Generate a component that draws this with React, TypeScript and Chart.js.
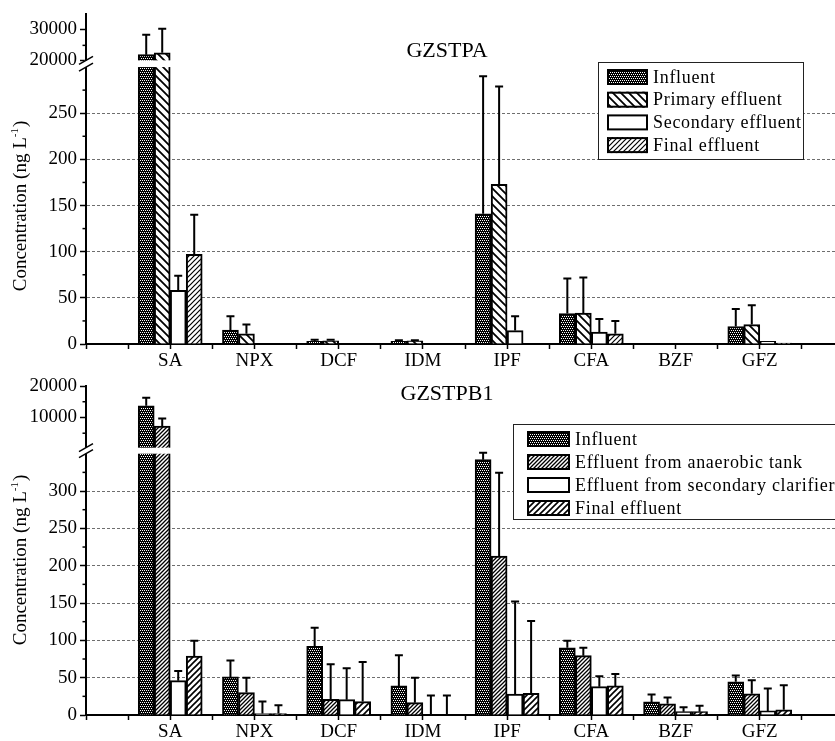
import React, { useEffect, useRef } from 'react';
import { Chart, registerables, LinearScale } from 'chart.js';

Chart.register(...registerables);

// ---------------- data ----------------
const categories = ['SA', 'NPX', 'DCF', 'IDM', 'IPF', 'CFA', 'BZF', 'GFZ'];
const xTickValues = [0, 0.5, 1, 1.5, 2, 2.5, 3, 3.5, 4, 4.5, 5, 5.5, 6, 6.5, 7, 7.5, 8, 8.5, 9];

// Panel A: GZSTPA
const titleA = 'GZSTPA';
const namesA = ['Influent', 'Primary effluent', 'Secondary effluent', 'Final effluent'];
const aInfluent = [22100, 15, 3, 3, 141, 33, 0, 19];
const aInfluentErr = [6200, 15, 1.5, 1, 149, 38, 0, 19];
const aPrimary = [22700, 11, 3.5, 3.5, 173, 33.5, 0, 21];
const aPrimaryErr = [7500, 10, 1, 0.5, 106, 38.5, 0, 21];
const aSecondary = [58, 0, 0, 0, 14.5, 13, 0, 3];
const aSecondaryErr = [16, 0, 0, 0, 15.5, 14, 0, 0];
const aFinal = [97, 0, 0, 0, 0, 11, 0, 1];
const aFinalErr = [43, 0, 0, 0, 0, 14, 0, 0];
const aMajorTicks = [0, 50, 100, 150, 200, 250, 20000, 30000];
const aMinorTicks = [25, 75, 125, 175, 225, 275, 25000];
const aGridTicks = [50, 100, 150, 200, 250];

// Panel B: GZSTPB1
const titleB = 'GZSTPB1';
const namesB = ['Influent', 'Effluent from anaerobic tank', 'Effluent from secondary clarifier', 'Final effluent'];
const bInfluent = [13700, 51, 92, 39, 342, 90, 17.5, 44.5];
const bInfluentErr = [2600, 22, 25, 41, 15, 9.5, 10, 8.5];
const bAnaerobic = [7300, 30, 21, 16.5, 213, 79.5, 15, 28.5];
const bAnaerobicErr = [2400, 20, 47, 33.5, 111.5, 10.5, 8.5, 18];
const bSecondary = [46, 2, 20.5, 0, 28, 38, 4.5, 5.5];
const bSecondaryErr = [13, 16, 42, 26, 124, 14, 6, 30];
const bFinal = [79, 2, 18, 0, 29, 39, 4.5, 7];
const bFinalErr = [20.5, 11, 53, 26, 97, 16, 8, 33];
const bMajorTicks = [0, 50, 100, 150, 200, 250, 300, 10000, 20000];
const bMinorTicks = [25, 75, 125, 175, 225, 275, 325, 5000, 15000];
const bGridTicks = [50, 100, 150, 200, 250, 300];

const yTitle = 'Concentration (ng L';
const yTitleSup = '-1';
const yTitleEnd = ')';

// ---------------- broken axis scale ----------------
type Seg = { min: number; max: number; f0: number; f1: number };
const SEGS = new WeakMap<HTMLCanvasElement, Seg[]>();

function valueToFrac(segs: Seg[], v: number) {
  const [lo, hi] = segs;
  if (v <= lo.max) return lo.f0 + ((v - lo.min) / (lo.max - lo.min)) * (lo.f1 - lo.f0);
  if (v >= hi.min) return hi.f0 + ((v - hi.min) / (hi.max - hi.min)) * (hi.f1 - hi.f0);
  return lo.f1 + ((v - lo.max) / (hi.min - lo.max)) * (hi.f0 - lo.f1);
}
function fracToValue(segs: Seg[], f: number) {
  const [lo, hi] = segs;
  if (f <= lo.f1) return lo.min + ((f - lo.f0) / (lo.f1 - lo.f0)) * (lo.max - lo.min);
  if (f >= hi.f0) return hi.min + ((f - hi.f0) / (hi.f1 - hi.f0)) * (hi.max - hi.min);
  return lo.max + ((f - lo.f1) / (hi.f0 - lo.f1)) * (hi.min - lo.max);
}

class BrokenScale extends (LinearScale as any) {
  static id = 'broken';
  getPixelForValue(value: number) {
    const segs = SEGS.get((this as any).chart.canvas);
    if (!segs || value === null || value === undefined || isNaN(value)) return super.getPixelForValue(value);
    const self = this as any;
    const f = valueToFrac(segs, value);
    return self.bottom - f * (self.bottom - self.top);
  }
  getValueForPixel(pixel: number) {
    const segs = SEGS.get((this as any).chart.canvas);
    const self = this as any;
    if (!segs) return super.getValueForPixel(pixel);
    const f = (self.bottom - pixel) / (self.bottom - self.top);
    return fracToValue(segs, f);
  }
}
Chart.register(BrokenScale as any);

const FONT = "'Liberation Serif', 'Times New Roman', serif";
Chart.defaults.font.family = FONT;

// ---------------- patterns ----------------
function makeTile(size: number, draw: (c: CanvasRenderingContext2D, s: number) => void) {
  const cv = document.createElement('canvas');
  cv.width = size;
  cv.height = size;
  const c = cv.getContext('2d')!;
  draw(c, size);
  return c.createPattern(cv, 'repeat') as CanvasPattern;
}
function dotPattern() {
  return makeTile(4, (c) => {
    c.fillStyle = '#000';
    c.fillRect(0, 0, 4, 4);
    c.fillStyle = '#fff';
    c.fillRect(0, 0, 1, 1);
    c.fillRect(2, 0, 1, 1);
    c.fillRect(1, 2, 1, 1);
    c.fillRect(3, 2, 1, 1);
  });
}
function hatchPattern(forward: boolean, s: number, lw: number) {
  return makeTile(s, (c) => {
    c.fillStyle = '#fff';
    c.fillRect(0, 0, s, s);
    c.strokeStyle = '#000';
    c.lineWidth = lw;
    c.beginPath();
    if (forward) {
      c.moveTo(-1, s + 1); c.lineTo(s + 1, -1);
      c.moveTo(-s / 2 - 1, s / 2 + 1); c.lineTo(s / 2 + 1, -s / 2 - 1);
      c.moveTo(s / 2 - 1, s * 1.5 + 1); c.lineTo(s * 1.5 + 1, s / 2 - 1);
    } else {
      c.moveTo(-1, -1); c.lineTo(s + 1, s + 1);
      c.moveTo(-s / 2 - 1, s / 2 - 1); c.lineTo(s / 2 + 1, s * 1.5 + 1);
      c.moveTo(s / 2 - 1, -s / 2 - 1); c.lineTo(s * 1.5 + 1, s / 2 + 1);
    }
    c.stroke();
  });
}

// ---------------- panel config ----------------
type LegendCfg = { x: number; y: number; w: number; h: number; row0: number; rowGap: number; swX: number; swW: number; swH: number; textX: number };
type PanelCfg = {
  title: string;
  titleX: number;
  titleY: number;
  names: string[];
  values: number[][];
  errors: number[][];
  fills: () => (string | CanvasPattern)[];
  major: number[];
  minor: number[];
  grid: number[];
  segs: Seg[];
  yMax: number;
  padTop: number;
  xAxisH: number;
  height: number;
  top: number;
  yTitleCY: number;
  legend: LegendCfg;
};

const panelA: PanelCfg = {
  title: titleA,
  titleX: 447,
  titleY: 51,
  names: namesA,
  values: [aInfluent, aPrimary, aSecondary, aFinal],
  errors: [aInfluentErr, aPrimaryErr, aSecondaryErr, aFinalErr],
  fills: () => [dotPattern(), hatchPattern(false, 8, 1.8), '#ffffff', hatchPattern(true, 5, 1.2)],
  major: aMajorTicks,
  minor: aMinorTicks,
  grid: aGridTicks,
  segs: [
    { min: 0, max: 300, f0: 0, f1: 0.8403 },
    { min: 20310, max: 34690, f0: 0.8606, f1: 1 },
  ],
  yMax: 34690,
  padTop: 14,
  xAxisH: 28,
  height: 372,
  top: 0,
  yTitleCY: 206,
  legend: { x: 598, y: 62, w: 205, h: 97, row0: 77, rowGap: 22.7, swX: 607, swW: 41, swH: 16, textX: 653 },
};

const panelB: PanelCfg = {
  title: titleB,
  titleX: 447,
  titleY: 24,
  names: namesB,
  values: [bInfluent, bAnaerobic, bSecondary, bFinal],
  errors: [bInfluentErr, bAnaerobicErr, bSecondaryErr, bFinalErr],
  fills: () => [dotPattern(), hatchPattern(true, 4, 1.3), '#ffffff', hatchPattern(true, 6, 1.6)],
  major: bMajorTicks,
  minor: bMinorTicks,
  grid: bGridTicks,
  segs: [
    { min: 0, max: 350, f0: 0, f1: 0.7942 },
    { min: 400, max: 20000, f0: 0.8125, f1: 1 },
  ],
  yMax: 20000,
  padTop: 16,
  xAxisH: 26,
  height: 371,
  top: 370,
  yTitleCY: 190,
  legend: { x: 513, y: 54, w: 340, h: 95, row0: 69, rowGap: 23, swX: 527, swW: 43, swH: 16, textX: 575 },
};

function decorPlugin(p: PanelCfg, fills: (string | CanvasPattern)[]) {
  return {
    id: 'decor',
    afterDatasetsDraw(chart: any) {
      const ctx: CanvasRenderingContext2D = chart.ctx;
      const ys = chart.scales.y;
      const area = chart.chartArea;
      const gTop = ys.getPixelForValue(p.segs[1].min);
      const gBot = ys.getPixelForValue(p.segs[0].max);
      ctx.save();
      // break band
      ctx.fillStyle = '#fff';
      ctx.fillRect(area.left - 1.5, gTop, chart.width, gBot - gTop);
      ctx.strokeStyle = '#000';
      ctx.lineWidth = 1.5;
      for (const yy of [gTop, gBot]) {
        ctx.beginPath();
        ctx.moveTo(area.left - 7, yy + 4);
        ctx.lineTo(area.left + 7, yy - 4);
        ctx.stroke();
      }
      // minor ticks
      for (const v of p.minor) {
        const py = ys.getPixelForValue(v);
        ctx.beginPath();
        ctx.moveTo(area.left - 3.5, py);
        ctx.lineTo(area.left, py);
        ctx.stroke();
      }
      // error bars
      ctx.lineWidth = 2;
      p.errors.forEach((errs, di) => {
        const meta = chart.getDatasetMeta(di);
        meta.data.forEach((el: any, i: number) => {
          const e = errs[i];
          if (!e) return;
          const v = p.values[di][i];
          const x = el.x;
          const y0 = el.y;
          const y1 = ys.getPixelForValue(v + e);
          ctx.beginPath();
          ctx.moveTo(x, y0);
          ctx.lineTo(x, y1);
          ctx.moveTo(x - 4, y1);
          ctx.lineTo(x + 4, y1);
          ctx.stroke();
        });
      });
      ctx.restore();
    },
    afterDraw(chart: any) {
      const ctx: CanvasRenderingContext2D = chart.ctx;
      const L = p.legend;
      ctx.save();
      // legend
      ctx.fillStyle = '#fff';
      ctx.fillRect(L.x, L.y, L.w, L.h);
      ctx.strokeStyle = '#222';
      ctx.lineWidth = 1;
      ctx.strokeRect(L.x + 0.5, L.y + 0.5, L.w, L.h);
      ctx.font = `18px ${FONT}`;
      (ctx as any).letterSpacing = '0.7px';
      ctx.textBaseline = 'middle';
      ctx.textAlign = 'left';
      p.names.forEach((name, i) => {
        const cy = L.row0 + i * L.rowGap;
        ctx.fillStyle = fills[i] as any;
        ctx.fillRect(L.swX, cy - L.swH / 2, L.swW, L.swH);
        ctx.strokeStyle = '#000';
        ctx.lineWidth = 2;
        ctx.strokeRect(L.swX + 1, cy - L.swH / 2 + 1, L.swW - 2, L.swH - 2);
        ctx.fillStyle = '#000';
        ctx.fillText(name, L.textX, cy + 1);
      });
      (ctx as any).letterSpacing = '0px';
      // panel title
      ctx.font = `22px ${FONT}`;
      ctx.textAlign = 'center';
      ctx.fillText(p.title, p.titleX, p.titleY);
      // y-axis title
      ctx.translate(21, p.yTitleCY);
      ctx.rotate(-Math.PI / 2);
      ctx.font = `19px ${FONT}`;
      const w1 = ctx.measureText(yTitle).width;
      ctx.font = `11px ${FONT}`;
      const w2 = ctx.measureText(yTitleSup).width;
      ctx.font = `19px ${FONT}`;
      const w3 = ctx.measureText(yTitleEnd).width;
      const total = w1 + w2 + w3 + 1;
      let x = -total / 2;
      ctx.textAlign = 'left';
      ctx.fillText(yTitle, x, 0);
      x += w1;
      ctx.font = `11px ${FONT}`;
      ctx.fillText(yTitleSup, x, -6);
      x += w2 + 1;
      ctx.font = `19px ${FONT}`;
      ctx.fillText(yTitleEnd, x, 0);
      ctx.restore();
    },
  };
}

function Panel({ p }: { p: PanelCfg }) {
  const ref = useRef<HTMLCanvasElement>(null);
  useEffect(() => {
    const canvas = ref.current!;
    SEGS.set(canvas, p.segs);
    const fills = p.fills();
    const chart = new Chart(canvas, {
      type: 'bar',
      data: {
        datasets: p.values.map((vals, i) => ({
          label: p.names[i],
          data: vals.map((v, j) => ({ x: j + 1, y: v })),
          backgroundColor: fills[i] as any,
          borderColor: '#000',
          borderWidth: 2,
          borderSkipped: 'start',
          barThickness: 16,
        })),
      } as any,
      options: {
        responsive: false,
        animation: false,
        events: [],
        layout: { padding: { top: p.padTop, left: 0, right: 0, bottom: 0 } },
        plugins: { legend: { display: false }, tooltip: { enabled: false }, title: { display: false } },
        scales: {
          x: {
            type: 'linear',
            min: 0,
            max: 9,
            offset: false,
            afterBuildTicks: (s: any) => {
              s.ticks = xTickValues.map((v) => ({ value: v }));
            },
            afterFit: (s: any) => {
              s.height = p.xAxisH;
            },
            ticks: {
              autoSkip: false,
              maxRotation: 0,
              minRotation: 0,
              padding: 1,
              color: '#000',
              font: { size: 19, family: FONT },
              callback: (v: any) => {
                const n = Number(v);
                const r = Math.round(n);
                return Math.abs(n - r) < 1e-6 && r >= 1 && r <= categories.length ? categories[r - 1] : '';
              },
            },
            grid: { drawOnChartArea: false, offset: false, tickLength: 5, tickColor: '#000', tickWidth: 1.5 },
            border: { color: '#000', width: 2 },
          },
          y: {
            type: 'broken',
            min: 0,
            max: p.yMax,
            afterBuildTicks: (s: any) => {
              s.ticks = p.major.map((v) => ({ value: v }));
            },
            afterFit: (s: any) => {
              s.width = 86;
            },
            ticks: {
              autoSkip: false,
              padding: 3,
              color: '#000',
              font: { size: 19, family: FONT },
              callback: (v: any) => String(v),
            },
            grid: {
              color: (c: any) => (c.tick && p.grid.includes(c.tick.value) ? '#6e6e6e' : 'rgba(0,0,0,0)'),
              lineWidth: 1,
              tickLength: 6,
              tickColor: '#000',
              tickWidth: 1.5,
            },
            border: { color: '#000', width: 2, dash: [3, 2] },
          },
        } as any,
      },
      plugins: [decorPlugin(p, fills) as any],
    });
    return () => chart.destroy();
  }, []);
  return (
    <canvas
      ref={ref}
      width={845}
      height={p.height}
      style={{ position: 'absolute', left: 0, top: p.top, display: 'block' }}
    />
  );
}

export default function App() {
  return (
    <div
      style={{
        position: 'fixed',
        left: 0,
        top: 0,
        width: 835,
        height: 741,
        overflow: 'hidden',
        background: '#fff',
      }}
    >
      <Panel p={panelA} />
      <Panel p={panelB} />
    </div>
  );
}
